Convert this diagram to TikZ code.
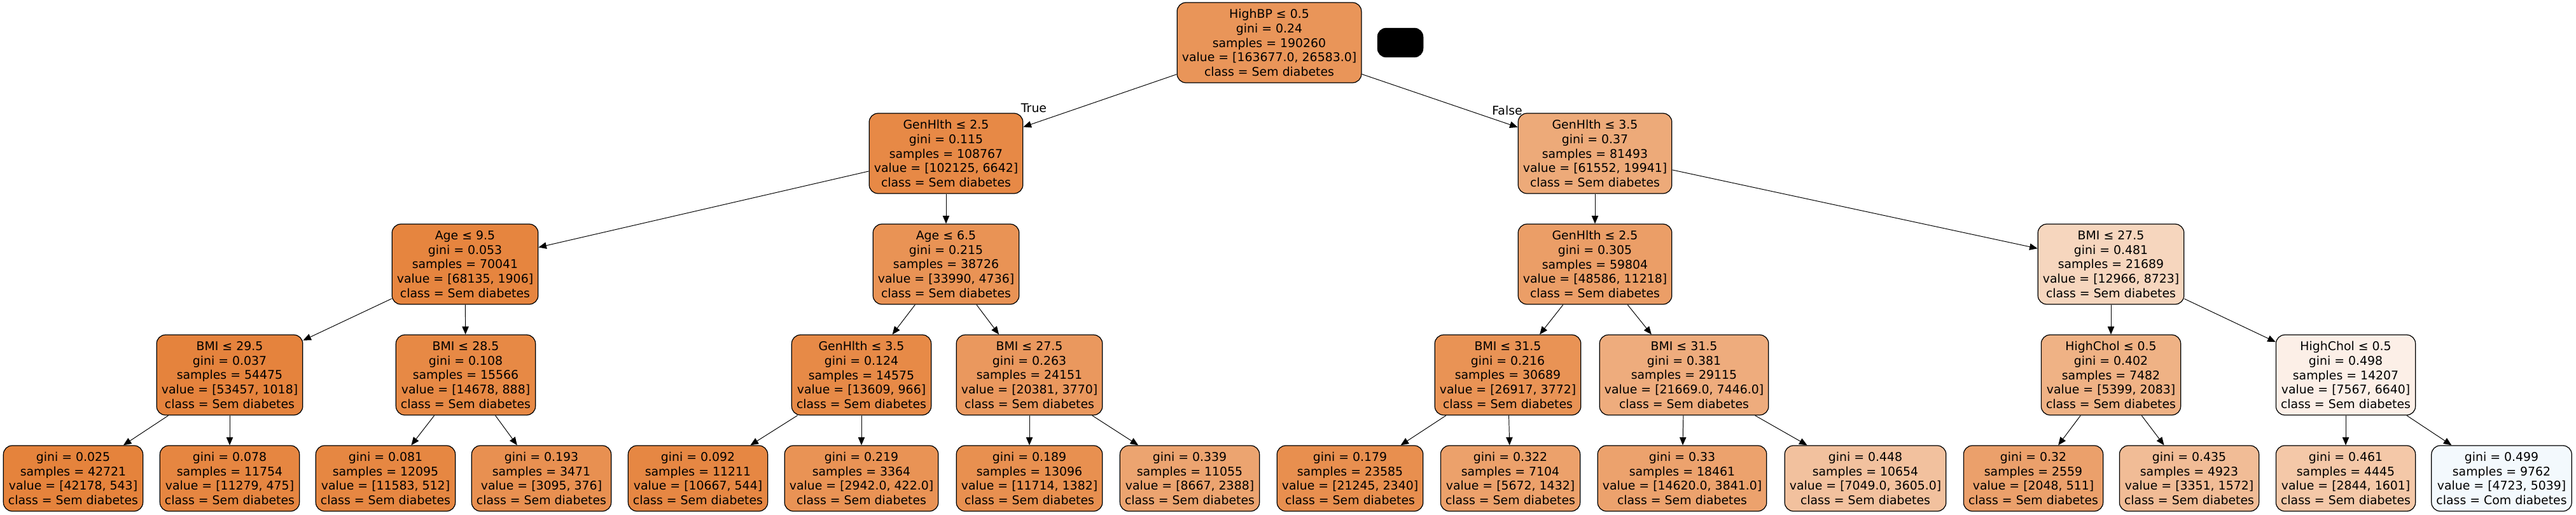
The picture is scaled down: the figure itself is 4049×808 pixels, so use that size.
\documentclass[tikz,border=0pt]{standalone}
\usepackage{fontspec}
\setmainfont{DejaVu Sans}
\usetikzlibrary{arrows.meta}
\definecolor{orng}{RGB}{229,129,57}
\definecolor{blu}{RGB}{57,157,229}
\begin{document}
\begin{tikzpicture}[x=0.72pt,y=-0.72pt,
  tn/.style={draw=black, rounded corners=10pt, line width=0.9pt, align=center,
    inner xsep=5.5pt, inner ysep=2pt, minimum height=90.7pt,
    font=\fontsize{13.6pt}{16.3pt}\selectfont},
  lf/.style={tn, minimum height=74.2pt},
  edge/.style={line width=0.7pt, -{Triangle[length=9pt,width=7.5pt]}},
  elab/.style={font=\fontsize{13.6pt}{16.3pt}\selectfont, inner sep=0pt}]
\useasboundingbox (0,0) rectangle (4049,808);
% level 0
\node[tn, fill=orng!83.8!white] (root) at (1995,67) {HighBP ≤ 0.5\\gini = 0.24\\samples = 190260\\value = [163677.0, 26583.0]\\class = Sem diabetes};
\node[draw=black, fill=black, rounded corners=10pt, minimum width=51.8pt, minimum height=33pt, inner sep=0pt] (blob) at (2201,67) {};
% level 1
\node[tn, fill=orng!93.5!white] (n1) at (1487,241) {GenHlth ≤ 2.5\\gini = 0.115\\samples = 108767\\value = [102125, 6642]\\class = Sem diabetes};
\node[tn, fill=orng!67.6!white] (n2) at (2507,241) {GenHlth ≤ 3.5\\gini = 0.37\\samples = 81493\\value = [61552, 19941]\\class = Sem diabetes};
% level 2
\node[tn, fill=orng!97.2!white] (n3) at (731,415) {Age ≤ 9.5\\gini = 0.053\\samples = 70041\\value = [68135, 1906]\\class = Sem diabetes};
\node[tn, fill=orng!86.1!white] (n4) at (1487,415) {Age ≤ 6.5\\gini = 0.215\\samples = 38726\\value = [33990, 4736]\\class = Sem diabetes};
\node[tn, fill=orng!76.9!white] (n5) at (2507,415) {GenHlth ≤ 2.5\\gini = 0.305\\samples = 59804\\value = [48586, 11218]\\class = Sem diabetes};
\node[tn, fill=orng!32.7!white] (n6) at (3318,415) {BMI ≤ 27.5\\gini = 0.481\\samples = 21689\\value = [12966, 8723]\\class = Sem diabetes};
% level 3
\node[tn, fill=orng!98.1!white] (n7) at (361,589) {BMI ≤ 29.5\\gini = 0.037\\samples = 54475\\value = [53457, 1018]\\class = Sem diabetes};
\node[tn, fill=orng!93.9!white] (n8) at (732,589) {BMI ≤ 28.5\\gini = 0.108\\samples = 15566\\value = [14678, 888]\\class = Sem diabetes};
\node[tn, fill=orng!92.9!white] (n9) at (1354,589) {GenHlth ≤ 3.5\\gini = 0.124\\samples = 14575\\value = [13609, 966]\\class = Sem diabetes};
\node[tn, fill=orng!81.5!white] (n10) at (1618,589) {BMI ≤ 27.5\\gini = 0.263\\samples = 24151\\value = [20381, 3770]\\class = Sem diabetes};
\node[tn, fill=orng!86.0!white] (n11) at (2370,589) {BMI ≤ 31.5\\gini = 0.216\\samples = 30689\\value = [26917, 3772]\\class = Sem diabetes};
\node[tn, fill=orng!65.6!white] (n12) at (2647,589) {BMI ≤ 31.5\\gini = 0.381\\samples = 29115\\value = [21669.0, 7446.0]\\class = Sem diabetes};
\node[tn, fill=orng!61.4!white] (n13) at (3318,589) {HighChol ≤ 0.5\\gini = 0.402\\samples = 7482\\value = [5399, 2083]\\class = Sem diabetes};
\node[tn, fill=orng!12.3!white] (n14) at (3687,589) {HighChol ≤ 0.5\\gini = 0.498\\samples = 14207\\value = [7567, 6640]\\class = Sem diabetes};
% leaves
\node[lf, fill=orng!98.7!white] (l1) at (115,751.5) {gini = 0.025\\samples = 42721\\value = [42178, 543]\\class = Sem diabetes};
\node[lf, fill=orng!95.8!white] (l2) at (361,751.5) {gini = 0.078\\samples = 11754\\value = [11279, 475]\\class = Sem diabetes};
\node[lf, fill=orng!95.6!white] (l3) at (606,751.5) {gini = 0.081\\samples = 12095\\value = [11583, 512]\\class = Sem diabetes};
\node[lf, fill=orng!87.9!white] (l4) at (851,751.5) {gini = 0.193\\samples = 3471\\value = [3095, 376]\\class = Sem diabetes};
\node[lf, fill=orng!94.9!white] (l5) at (1097,751.5) {gini = 0.092\\samples = 11211\\value = [10667, 544]\\class = Sem diabetes};
\node[lf, fill=orng!85.7!white] (l6) at (1354,751.5) {gini = 0.219\\samples = 3364\\value = [2942.0, 422.0]\\class = Sem diabetes};
\node[lf, fill=orng!88.2!white] (l7) at (1618,751.5) {gini = 0.189\\samples = 13096\\value = [11714, 1382]\\class = Sem diabetes};
\node[lf, fill=orng!72.4!white] (l8) at (1870,751.5) {gini = 0.339\\samples = 11055\\value = [8667, 2388]\\class = Sem diabetes};
\node[lf, fill=orng!89.0!white] (l9) at (2122,751.5) {gini = 0.179\\samples = 23585\\value = [21245, 2340]\\class = Sem diabetes};
\node[lf, fill=orng!74.8!white] (l10) at (2374,751.5) {gini = 0.322\\samples = 7104\\value = [5672, 1432]\\class = Sem diabetes};
\node[lf, fill=orng!73.7!white] (l11) at (2644,751.5) {gini = 0.33\\samples = 18461\\value = [14620.0, 3841.0]\\class = Sem diabetes};
\node[lf, fill=orng!48.9!white] (l12) at (2932,751.5) {gini = 0.448\\samples = 10654\\value = [7049.0, 3605.0]\\class = Sem diabetes};
\node[lf, fill=orng!75.0!white] (l13) at (3196,751.5) {gini = 0.32\\samples = 2559\\value = [2048, 511]\\class = Sem diabetes};
\node[lf, fill=orng!53.1!white] (l14) at (3441,751.5) {gini = 0.435\\samples = 4923\\value = [3351, 1572]\\class = Sem diabetes};
\node[lf, fill=orng!43.7!white] (l15) at (3687,751.5) {gini = 0.461\\samples = 4445\\value = [2844, 1601]\\class = Sem diabetes};
\node[lf, fill=blu!6.3!white] (l16) at (3932,751.5) {gini = 0.499\\samples = 9762\\value = [4723, 5039]\\class = Com diabetes};
% edges
\draw[edge] (root) -- (n1);
\draw[edge] (root) -- (n2);
\draw[edge] (n1) -- (n3);
\draw[edge] (n1) -- (n4);
\draw[edge] (n2) -- (n5);
\draw[edge] (n2) -- (n6);
\draw[edge] (n3) -- (n7);
\draw[edge] (n3) -- (n8);
\draw[edge] (n4) -- (n9);
\draw[edge] (n4) -- (n10);
\draw[edge] (n5) -- (n11);
\draw[edge] (n5) -- (n12);
\draw[edge] (n6) -- (n13);
\draw[edge] (n6) -- (n14);
\draw[edge] (n7) -- (l1);
\draw[edge] (n7) -- (l2);
\draw[edge] (n8) -- (l3);
\draw[edge] (n8) -- (l4);
\draw[edge] (n9) -- (l5);
\draw[edge] (n9) -- (l6);
\draw[edge] (n10) -- (l7);
\draw[edge] (n10) -- (l8);
\draw[edge] (n11) -- (l9);
\draw[edge] (n11) -- (l10);
\draw[edge] (n12) -- (l11);
\draw[edge] (n12) -- (l12);
\draw[edge] (n13) -- (l13);
\draw[edge] (n13) -- (l14);
\draw[edge] (n14) -- (l15);
\draw[edge] (n14) -- (l16);
% edge labels
\node[elab] (ltrue) at (1625,170) {True};
\node[elab] (lfalse) at (2369,173) {False};
\end{tikzpicture}
\end{document}
